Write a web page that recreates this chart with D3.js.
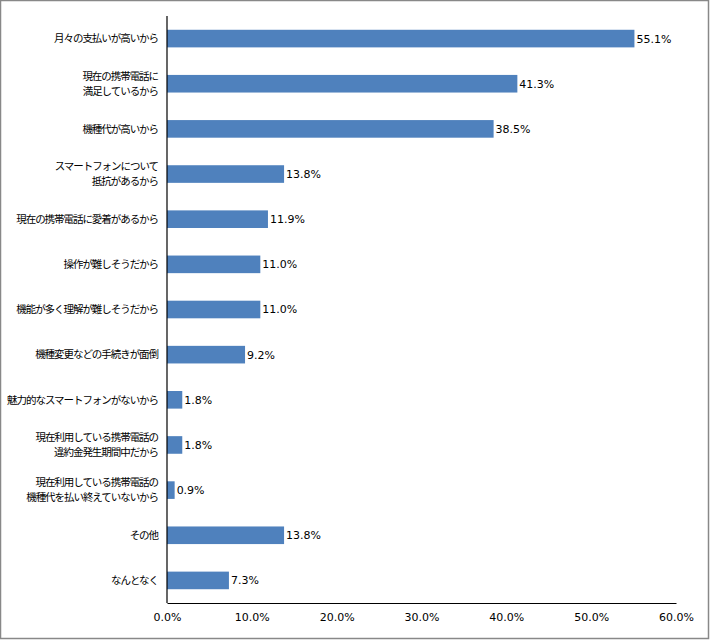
<!DOCTYPE html>
<html><head><meta charset="utf-8">
<script src="https://cdn.jsdelivr.net/npm/d3@7"></script>
<style>body{margin:0;background:#fff;}</style>
</head><body>
<script>
const categories = [
  ["月々の支払いが高いから"],
  ["現在の携帯電話に","満足しているから"],
  ["機種代が高いから"],
  ["スマートフォンについて","抵抗があるから"],
  ["現在の携帯電話に愛着があるから"],
  ["操作が難しそうだから"],
  ["機能が多く理解が難しそうだから"],
  ["機種変更などの手続きが面倒"],
  ["魅力的なスマートフォンがないから"],
  ["現在利用している携帯電話の","違約金発生期間中だから"],
  ["現在利用している携帯電話の","機種代を払い終えていないから"],
  ["その他"],
  ["なんとなく"]
];
const values = [55.1, 41.3, 38.5, 13.8, 11.9, 11.0, 11.0, 9.2, 1.8, 1.8, 0.9, 13.8, 7.3];
const tickValues = [0, 10, 20, 30, 40, 50, 60];

(function() {
const W = 710, H = 640;
const svg = d3.select("body").append("svg").attr("width", W).attr("height", H);
svg.append("rect").attr("x", 0.5).attr("y", 0.5).attr("width", W - 2).attr("height", H - 2)
  .attr("fill", "#fff").attr("stroke", "#888").attr("stroke-width", 1.5);

const pl = 167, pr = 676, pt = 16, pb = 603;
const x = d3.scaleLinear().domain([0, 60]).range([pl, pr]);
const idx = d3.range(categories.length);
const y = d3.scaleBand().domain(idx).range([pt, pb]).paddingInner(0.61).paddingOuter(0.305);

const jp = "'Noto Sans CJK JP', sans-serif";
const num = "Verdana, 'DejaVu Sans', sans-serif";

svg.append("g").selectAll("rect").data(idx).join("rect")
  .attr("x", x(0)).attr("y", i => y(i))
  .attr("width", i => x(values[i]) - x(0)).attr("height", y.bandwidth())
  .attr("fill", "#4f81bd");

svg.append("g").selectAll("text").data(idx).join("text")
  .attr("x", i => x(values[i]) + 2).attr("y", i => y(i) + y.bandwidth() / 2)
  .attr("dy", "0.36em").attr("font-family", num).attr("font-size", 11).attr("fill", "#000")
  .text(i => values[i].toFixed(1) + "%");

const lab = svg.append("g").selectAll("text").data(idx).join("text")
  .attr("x", pl - 9).attr("text-anchor", "end")
  .attr("font-family", jp).attr("font-size", 10.5).attr("letter-spacing", -1.05).attr("fill", "#000");
lab.each(function(i) {
  const lines = categories[i];
  const cy = y(i) + y.bandwidth() / 2;
  const lh = 15;
  const t = d3.select(this).attr("y", cy);
  lines.forEach((l, k) => {
    t.append("tspan").attr("x", pl - 9)
      .attr("y", cy + (k - (lines.length - 1) / 2) * lh)
      .attr("dy", "0.36em").text(l);
  });
});

const xAxis = d3.axisBottom(x).tickValues(tickValues).tickSize(0).tickPadding(10)
  .tickFormat(d => d.toFixed(1) + "%");
const gx = svg.append("g").attr("transform", `translate(0,${pb})`).call(xAxis);
gx.select(".domain").attr("stroke", "#000").attr("stroke-width", 1.2);
gx.selectAll("text").attr("font-family", num).attr("font-size", 11).attr("fill", "#000");

svg.append("line").attr("x1", pl).attr("x2", pl).attr("y1", pt).attr("y2", pb)
  .attr("stroke", "#000").attr("stroke-width", 1.2);
})();
</script>
</body></html>
